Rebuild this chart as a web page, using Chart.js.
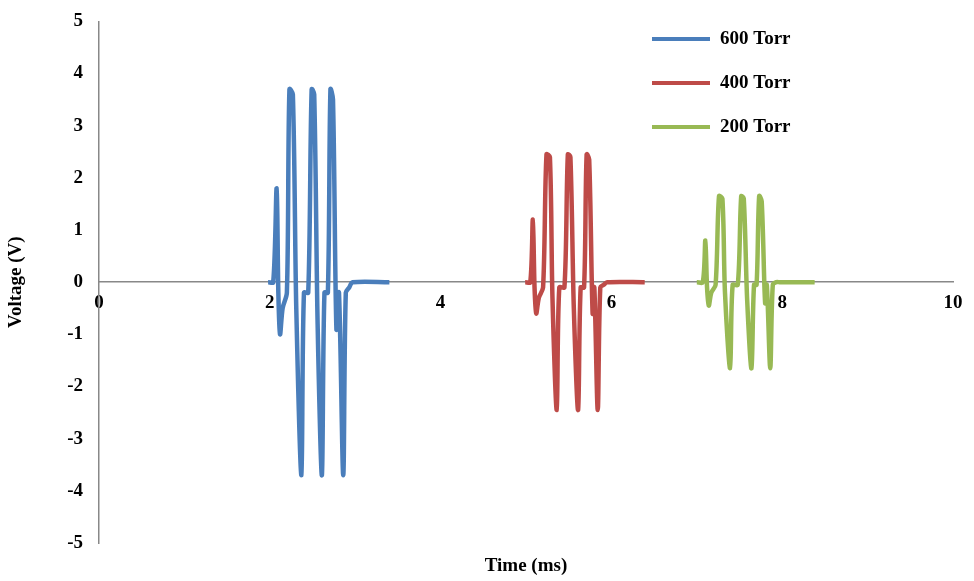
<!DOCTYPE html>
<html>
<head>
<meta charset="utf-8">
<script src="https://cdn.jsdelivr.net/npm/chart.js@4.4.0/dist/chart.umd.min.js"></script>
<style>
  body { margin: 0; background: #fff; }
  #wrap { width: 974px; height: 581px; }
</style>
</head>
<body>
<div id="wrap"><canvas id="voltageChart"></canvas></div>
<script>
// traces (time in ms, voltage in V)
const torr600 = [
  [1.98, 0], [2.04, 0], [2.08, 1.8], [2.10, -0.2], [2.12, -1.0], [2.15, -0.5], [2.20, -0.2],
  [2.23, 3.7], [2.27, 3.6], [2.31, -0.5], [2.37, -3.7], [2.40, -0.2], [2.45, -0.2],
  [2.49, 3.7], [2.52, 3.6], [2.56, -0.8], [2.61, -3.7], [2.64, -0.2], [2.68, -0.2],
  [2.71, 3.7], [2.74, 3.5], [2.78, -0.9], [2.81, -0.2], [2.86, -3.7], [2.89, -0.2],
  [2.93, -0.1], [2.97, 0], [3.40, 0]
];
const torr400 = [
  [4.99, 0], [5.05, 0], [5.08, 1.2], [5.10, -0.1], [5.12, -0.6], [5.15, -0.3], [5.20, -0.1],
  [5.24, 2.45], [5.28, 2.4], [5.31, -0.3], [5.36, -2.45], [5.39, -0.1], [5.45, -0.1],
  [5.49, 2.45], [5.52, 2.4], [5.56, -0.5], [5.61, -2.45], [5.64, -0.1], [5.68, -0.1],
  [5.71, 2.45], [5.74, 2.35], [5.78, -0.6], [5.80, -0.1], [5.84, -2.45], [5.87, -0.1],
  [5.91, -0.05], [5.95, 0], [6.39, 0]
];
const torr200 = [
  [7.00, 0], [7.07, 0], [7.10, 0.8], [7.12, -0.1], [7.14, -0.45], [7.17, -0.2], [7.22, -0.05],
  [7.26, 1.65], [7.30, 1.6], [7.33, -0.2], [7.39, -1.65], [7.42, -0.05], [7.48, -0.05],
  [7.52, 1.65], [7.55, 1.6], [7.59, -0.35], [7.64, -1.65], [7.67, -0.05], [7.70, -0.05],
  [7.73, 1.65], [7.76, 1.55], [7.80, -0.4], [7.82, -0.05], [7.86, -1.65], [7.89, -0.05],
  [7.93, 0], [7.97, 0], [8.38, 0]
];
const seriesNames = ["600 Torr", "400 Torr", "200 Torr"];
const seriesColors = ["#4a7ebb", "#be4b48", "#98b954"];
const xTicks = [0, 2, 4, 6, 8, 10];
const yTicks = [-5, -4, -3, -2, -1, 0, 1, 2, 3, 4, 5];

const font = "bold 19px 'Liberation Serif', serif";
const toPoints = (arr) => arr.map(([x, y]) => ({ x, y }));

const titlesAndLegend = {
  id: "titlesAndLegend",
  afterDraw(chart) {
    const ctx = chart.ctx;
    const area = chart.chartArea;
    ctx.save();
    ctx.font = font;
    ctx.fillStyle = "#000";
    ctx.textAlign = "center";
    ctx.textBaseline = "middle";
    ctx.fillText("Time (ms)", (area.left + area.right) / 2, 566);
    ctx.translate(16, chart.scales.y.getPixelForValue(0));
    ctx.rotate(-Math.PI / 2);
    ctx.fillText("Voltage (V)", 0, 0);
    ctx.restore();

    ctx.save();
    ctx.font = font;
    ctx.textAlign = "left";
    ctx.textBaseline = "middle";
    chart.data.datasets.forEach((ds, i) => {
      const y = 39 + i * 44;
      ctx.strokeStyle = ds.borderColor;
      ctx.lineWidth = 4;
      ctx.beginPath();
      ctx.moveTo(652, y);
      ctx.lineTo(710, y);
      ctx.stroke();
      ctx.fillStyle = "#000";
      ctx.fillText(ds.label, 720, y);
    });
    ctx.restore();
  }
};

new Chart(document.getElementById("voltageChart"), {
  type: "line",
  data: {
    datasets: [torr600, torr400, torr200].map((d, i) => ({
      label: seriesNames[i],
      data: toPoints(d),
      borderColor: seriesColors[i],
      borderWidth: 4.5,
      pointRadius: 0,
      tension: 0.3,
      fill: false
    }))
  },
  options: {
    responsive: true,
    maintainAspectRatio: false,
    animation: false,
    layout: { padding: { top: 12, right: 21, bottom: 38, left: 0 } },
    plugins: { legend: { display: false }, tooltip: { enabled: false } },
    scales: {
      x: {
        type: "linear",
        position: { y: 0 },
        min: 0,
        max: 10,
        afterBuildTicks: (s) => { s.ticks = xTicks.map((v) => ({ value: v })); },
        grid: { display: false, drawTicks: true, tickLength: 5 },
        border: { color: "#888", width: 1.5 },
        ticks: { color: "#000", font: { family: "'Liberation Serif', serif", size: 19, weight: "bold" }, padding: 4 }
      },
      y: {
        min: -5,
        max: 5,
        afterBuildTicks: (s) => { s.ticks = yTicks.map((v) => ({ value: v })); },
        afterFit: (s) => { s.width = 99; },
        grid: { display: false, drawTicks: true, tickLength: 6 },
        border: { color: "#888", width: 1.5 },
        ticks: { color: "#000", font: { family: "'Liberation Serif', serif", size: 19, weight: "bold" }, padding: 10 }
      }
    }
  },
  plugins: [titlesAndLegend]
});
</script>
</body>
</html>
